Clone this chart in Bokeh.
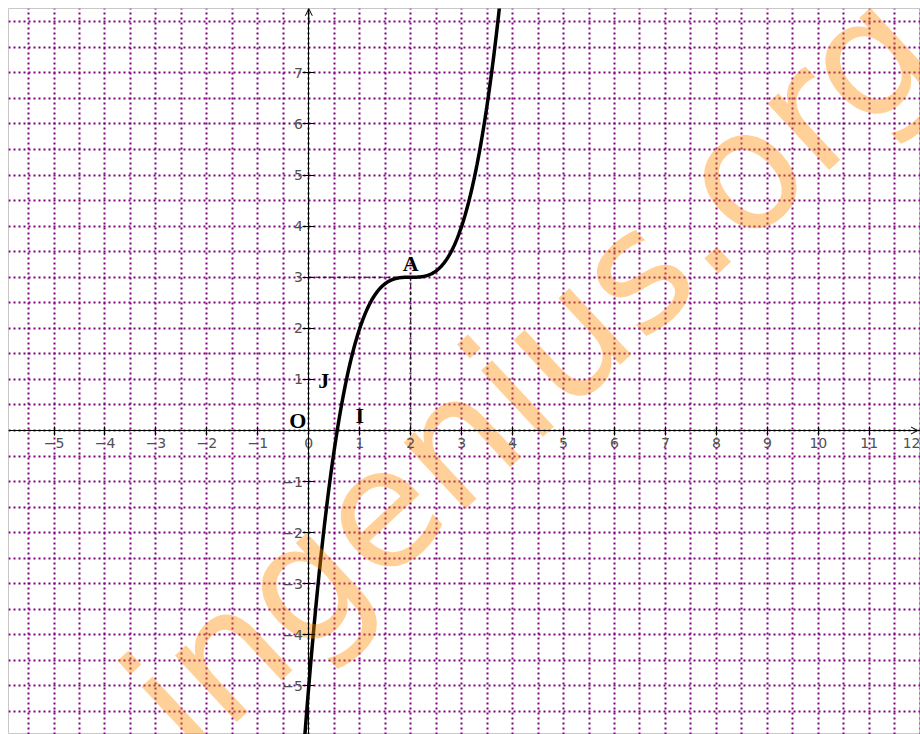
import numpy as np
from bokeh.plotting import figure
from bokeh.models import (ColumnDataSource, FixedTicker, SingleIntervalTicker, LinearAxis,
                          Grid, Arrow, OpenHead, Range1d)
from bokeh.core.properties import value
from bokeh.embed import file_html
from bokeh.resources import INLINE

# ---- data -------------------------------------------------------------
x_ticks = list(range(-5, 13))
y_ticks = [-5, -4, -3, -2, -1, 1, 2, 3, 4, 5, 6, 7]
grid_step = 0.5

# f(x) = (x - 2)^3 + 3  ->  x^3 - 6x^2 + 12x - 5   (inflection at A(2, 3))
curve_coeffs = [1, -6, 12, -5]
curve_domain = [-0.3, 4.0]

point_names = ["O", "I", "J", "A"]
point_x = [0, 1, 0, 2]
point_y = [0, 0, 1, 3]

watermark_text = "ingenius.org"

# ---- view -------------------------------------------------------------
x_lo, x_hi = -5.894, 12.006
y_lo, y_hi = -5.95, 8.26

p = figure(width=920, height=734, x_range=Range1d(x_lo, x_hi), y_range=Range1d(y_lo, y_hi),
           x_axis_type=None, y_axis_type=None, output_backend="svg",
           toolbar_location=None, min_border_left=8, min_border_top=8,
           min_border_right=0, min_border_bottom=0)
p.outline_line_color = "#c8c8c8"
p.outline_line_width = 1
p.background_fill_color = "white"
p.border_fill_color = "white"

grid_style = dict(grid_line_color="#800080", grid_line_width=2, grid_line_dash="2 3")
p.add_layout(Grid(dimension=0, ticker=SingleIntervalTicker(interval=grid_step), **grid_style), "center")
p.add_layout(Grid(dimension=1, ticker=SingleIntervalTicker(interval=grid_step), **grid_style), "center")

def lab(v):
    return ("\u2212" + str(-v)) if v < 0 else str(v)

xaxis = LinearAxis(fixed_location=0, ticker=FixedTicker(ticks=x_ticks),
                   major_label_overrides={v: lab(v) for v in x_ticks})
yaxis = LinearAxis(fixed_location=0, ticker=FixedTicker(ticks=y_ticks),
                   major_label_overrides={v: lab(v) for v in y_ticks})
for ax in (xaxis, yaxis):
    ax.axis_line_color = "black"
    ax.axis_line_width = 1
    ax.major_tick_line_color = "black"
    ax.major_tick_line_width = 1
    ax.minor_tick_line_color = None
    ax.major_label_text_font = "DejaVu Sans"
    ax.major_label_text_font_size = "14px"
    ax.major_label_text_color = "#505050"
xaxis.major_tick_in = 4
xaxis.major_tick_out = 5
xaxis.major_label_standoff = 2
yaxis.major_tick_in = 6
yaxis.major_tick_out = 6
yaxis.major_label_standoff = 0
p.add_layout(xaxis, "below")
p.add_layout(yaxis, "left")

# axis arrows
p.add_layout(Arrow(end=OpenHead(size=7, line_width=1, line_color="black"),
                   x_start=0, y_start=y_hi - 0.3, x_end=0, y_end=y_hi - 0.005,
                   line_color="black", line_width=1))
p.add_layout(Arrow(end=OpenHead(size=7, line_width=1, line_color="black"),
                   x_start=x_hi - 0.3, y_start=0, x_end=x_hi - 0.05, y_end=0,
                   line_color="black", line_width=1))

# dashed guides from A
ax_, ay_ = point_x[3], point_y[3]
p.segment(x0=[0, ax_], y0=[ay_, ay_], x1=[ax_, ax_], y1=[ay_, 0],
          line_color="black", line_width=1, line_dash="4 3")

# curve
xs = np.linspace(curve_domain[0], curve_domain[1], 500)
ys = np.polyval(curve_coeffs, xs)
p.line(xs, ys, line_color="black", line_width=3.5)

# point labels
label_dx = [-11, 0, 15, 0]
label_dy = [-10, -15, 1, -14]
src = ColumnDataSource(dict(x=point_x, y=point_y, name=point_names, dx=label_dx, dy=label_dy))
p.text(x="x", y="y", text="name", source=src, x_offset="dx", y_offset="dy",
       text_font=value("Liberation Serif"), text_font_style="bold", text_font_size="22px",
       text_align="center", text_baseline="middle", text_color="black")

# watermark
p.text(x=[4.31], y=[1.15], text=[watermark_text], angle=0.75,
       text_align="center", text_baseline="alphabetic",
       text_font=value("DejaVu Sans"), text_font_size="166px",
       text_color="#ff8c00", text_alpha=0.4)

open("out.html", "w").write(file_html(p, INLINE))
